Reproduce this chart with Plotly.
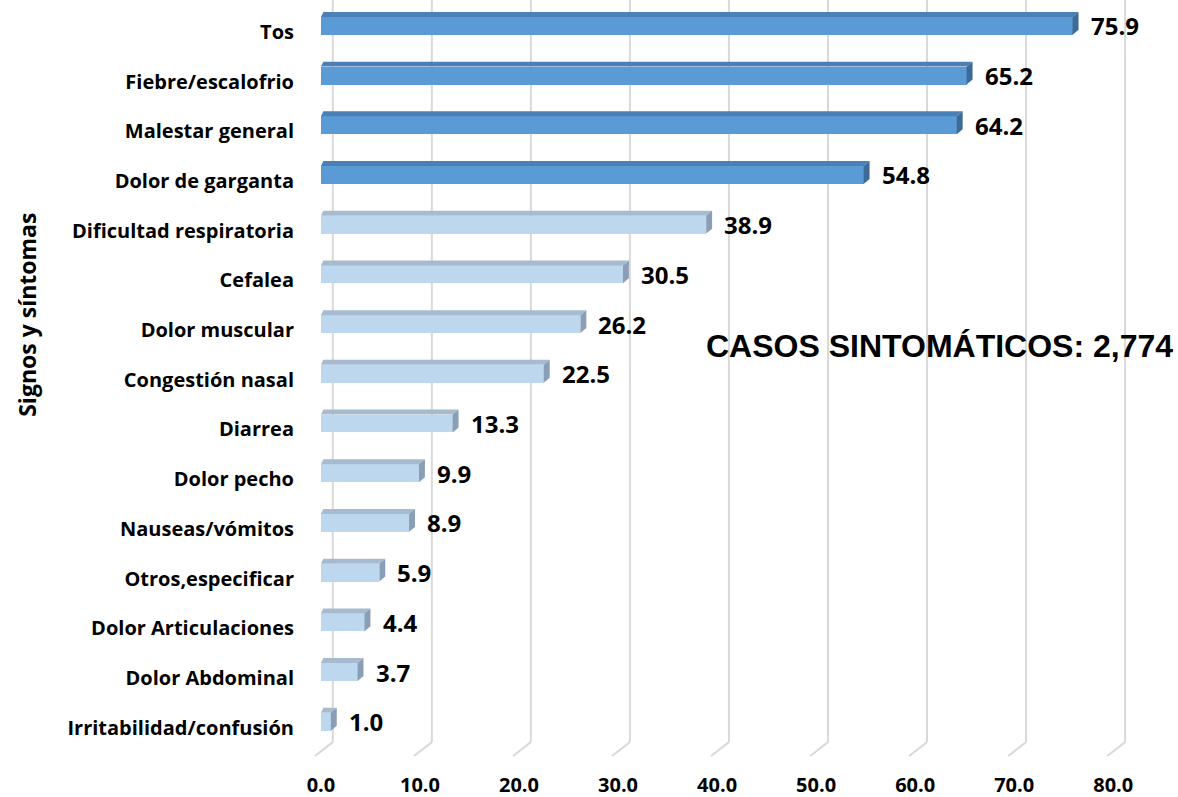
import plotly.graph_objects as go

categories = ["Tos", "Fiebre/escalofrio", "Malestar general", "Dolor de garganta",
              "Dificultad respiratoria", "Cefalea", "Dolor muscular", "Congestión nasal",
              "Diarrea", "Dolor pecho", "Nauseas/vómitos", "Otros,especificar",
              "Dolor Articulaciones", "Dolor Abdominal", "Irritabilidad/confusión"]
values = [75.9, 65.2, 64.2, 54.8, 38.9, 30.5, 26.2, 22.5, 13.3, 9.9, 8.9, 5.9, 4.4, 3.7, 1.0]
highlight = [True] * 4 + [False] * 11
x_ticks = [0, 10, 20, 30, 40, 50, 60, 70, 80]
y_title = "Signos y síntomas"
note = "CASOS SINTOMÁTICOS: 2,774"

# bottom-up order
cats = categories[::-1]
vals = values[::-1]
hl = highlight[::-1]
ypos = list(range(len(cats)))

FRONT = {True: "#5B9BD5", False: "#BDD7EE"}
TOP = {True: "#4A80B6", False: "#A6BBD0"}
SIDE = {True: "#3D6A97", False: "#8A9FB5"}

BW = 0.36       # bar thickness (front face)
DX = 0.6        # depth offset in x units
DY = 0.1        # depth offset in y units
GX = 1.2        # back wall offset for gridlines
FLOOR_BACK = -0.41
FLOOR_FRONT = -0.69

FONT = "Open Sans"

fig = go.Figure()
fig.add_trace(go.Bar(
    x=vals, y=ypos, orientation="h", width=BW,
    marker=dict(color=[FRONT[h] for h in hl], line=dict(width=0)),
    hoverinfo="x+y",
))

shapes = []
# gridlines on back wall + floor
for v in x_ticks:
    shapes.append(dict(type="line", xref="x", yref="y", layer="below",
                       x0=v + GX, x1=v + GX, y0=FLOOR_BACK, y1=20,
                       line=dict(color="#D9D9D9", width=2)))
    shapes.append(dict(type="line", xref="x", yref="y", layer="below",
                       x0=v + GX, x1=v - DX, y0=FLOOR_BACK, y1=FLOOR_FRONT,
                       line=dict(color="#D9D9D9", width=2)))

annotations = []
for y, v, h in zip(ypos, vals, hl):
    yt = y + BW / 2
    yb = y - BW / 2
    top = f"M 0,{yt} L {v},{yt} L {v + DX},{yt + DY} L {0.25},{yt + DY} Z"
    side = f"M {v},{yb} L {v},{yt} L {v + DX},{yt + DY} L {v + DX},{yb + DY} Z"
    shapes.append(dict(type="path", path=top, xref="x", yref="y", layer="above",
                       fillcolor=TOP[h], line=dict(width=0)))
    shapes.append(dict(type="path", path=side, xref="x", yref="y", layer="above",
                       fillcolor=SIDE[h], line=dict(width=0)))
    annotations.append(dict(x=v, y=y, xref="x", yref="y", text=f"{v:.1f}",
                            showarrow=False, xanchor="left", yanchor="middle",
                            xshift=16, yshift=0,
                            font=dict(family=FONT, size=24, color="black", weight="bold")))

annotations.append(dict(x=-0.349, y=0.585, xref="paper", yref="paper", text=y_title,
                        showarrow=False, textangle=-90, xanchor="center", yanchor="middle",
                        font=dict(family=FONT, size=23, color="black", weight="bold")))
annotations.append(dict(x=0.7636, y=0.544, xref="paper", yref="paper", text=note,
                        showarrow=False, xanchor="center", yanchor="middle",
                        font=dict(family="Liberation Sans", size=32, color="black", weight="bold")))

fig.update_layout(
    width=1178, height=797,
    margin=dict(l=313, r=45, t=0, b=38),
    plot_bgcolor="white", paper_bgcolor="white",
    showlegend=False, bargap=0,
    shapes=shapes, annotations=annotations,
    xaxis=dict(range=[-0.8, 82], tickvals=x_ticks,
               ticktext=[f"{t:.1f}" for t in x_ticks],
               showgrid=False, zeroline=False, showline=False, automargin=False,
               ticks="outside", ticklen=8, tickcolor="rgba(0,0,0,0)",
               tickfont=dict(family=FONT, size=20, color="black", weight="bold")),
    yaxis=dict(range=[-0.75, 14.52], tickvals=ypos, ticktext=cats,
               showgrid=False, zeroline=False, showline=False, automargin=False,
               ticks="outside", ticklen=14, tickcolor="rgba(0,0,0,0)",
               ticklabelshift=6,
               tickfont=dict(family=FONT, size=20, color="black", weight="bold")),
)

fig.write_html("out.html", config={"displayModeBar": False},
               post_script="document.body.style.margin='0';")
